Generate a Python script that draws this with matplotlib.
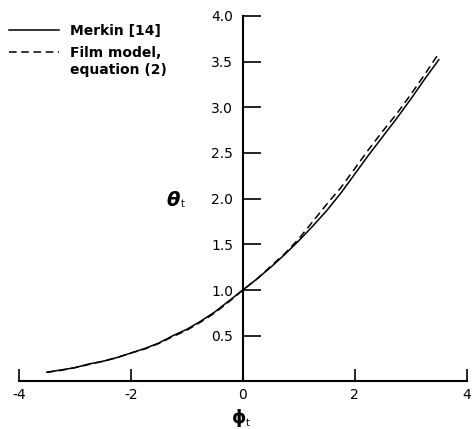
import matplotlib
matplotlib.use("Agg")
from matplotlib import pyplot as plt

plt.rcParams['font.family'] = ['DejaVu Sans']

phi = [-3.5, -3.25, -3.0, -2.75, -2.5, -2.25, -2.0, -1.75, -1.5, -1.25, -1.0, -0.75, -0.5, -0.25,
       0.0, 0.25, 0.5, 0.75, 1.0, 1.25, 1.5, 1.75, 2.0, 2.25, 2.5, 2.75, 3.0, 3.25, 3.5]
theta_merkin = [0.10, 0.125, 0.15, 0.19, 0.22, 0.26, 0.31, 0.36, 0.42, 0.50, 0.57, 0.66, 0.76, 0.88,
                1.0, 1.12, 1.25, 1.39, 1.54, 1.70, 1.87, 2.06, 2.27, 2.48, 2.68, 2.88, 3.09, 3.31, 3.52]
theta_film = [0.10, 0.12, 0.15, 0.185, 0.22, 0.26, 0.31, 0.355, 0.415, 0.49, 0.56, 0.65, 0.75, 0.87,
              1.0, 1.12, 1.26, 1.40, 1.56, 1.75, 1.94, 2.12, 2.33, 2.54, 2.74, 2.93, 3.14, 3.36, 3.59]

xticks = [-4, -2, 0, 2, 4]
yticks = [0.5, 1.0, 1.5, 2.0, 2.5, 3.0, 3.5, 4.0]

W, H = 472, 429
fig = plt.figure(figsize=(4.72, 4.29), dpi=100)
ax = fig.add_axes([0.040, 0.111, 0.949, 0.852])

ax.plot(phi, theta_merkin, color='black', lw=1.1, label='Merkin [14]')
ax.plot(phi, theta_film, color='black', lw=1.1, dashes=(5, 3), label='Film model,\nequation (2)')

ax.set_xlim(-4, 4)
ax.set_ylim(0, 4)

ax.spines['left'].set_position(('data', 0))
ax.spines['right'].set_visible(False)
ax.spines['top'].set_visible(False)
ax.spines['left'].set_linewidth(1.5)
ax.spines['bottom'].set_linewidth(1.5)

ax.set_xticks(xticks)
ax.set_xticklabels([str(v) for v in xticks])
ax.set_yticks(yticks)
ax.set_yticklabels(['%.1f' % v for v in yticks])
ax.tick_params(axis='y', direction='in', length=13, width=1.2, pad=7, labelsize=10)
ax.tick_params(axis='x', direction='in', length=9, width=1.2, pad=5, labelsize=10)

# axis labels with small subscript t
fig.text(173.5 / W, 1 - 200 / H, '\u03b8', fontsize=14, fontweight='bold', fontstyle='italic',
         ha='center', va='center')
fig.text(182.5 / W, 1 - 204 / H, 't', fontsize=7, ha='center', va='center')
fig.text(239 / W, 1 - 418 / H, '\u03d5', fontsize=13, fontweight='bold', ha='center', va='center')
fig.text(247.5 / W, 1 - 423 / H, 't', fontsize=7, ha='center', va='center')

leg = ax.legend(loc='upper left', bbox_to_anchor=(-0.051, 1.012), frameon=False,
                handlelength=3.6, handletextpad=0.8, labelspacing=0.6,
                prop={'weight': 'bold', 'size': 10})
# put the dashed handle level with the first line of its two-line label
dash_handle = leg.get_lines()[1]
dash_handle.set_ydata([y + 7.0 for y in dash_handle.get_ydata()])

fig.savefig('out.png', dpi=100)
